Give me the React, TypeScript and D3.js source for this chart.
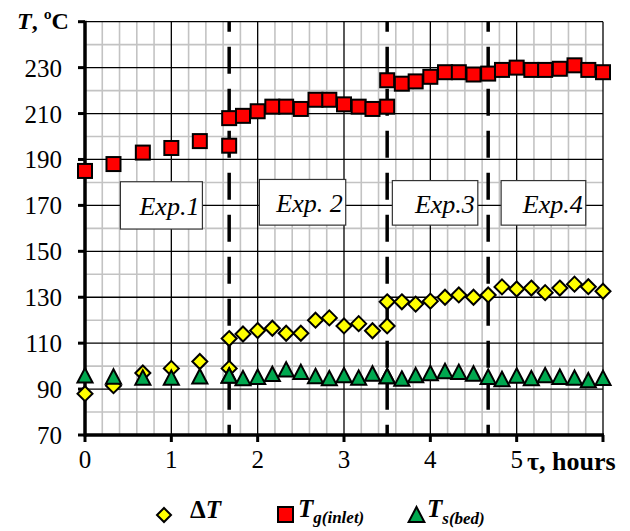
import * as d3 from "d3";

// time, hours
const HOURS = [
  0, 0.33, 0.67, 1.0, 1.33, 1.67, 1.67, 1.83, 2.0, 2.17, 2.33, 2.5, 2.67, 2.83, 3.0, 3.17, 3.33,
  3.5, 3.5, 3.67, 3.83, 4.0, 4.17, 4.33, 4.5, 4.67, 4.83, 5.0, 5.17, 5.33, 5.5, 5.67, 5.83, 6.0,
];
// ΔT
const DELTA_T = [
  88, 91.5, 97, 99, 102, 99, 112, 114, 115.5, 116.5, 114.3, 114.3, 120, 121, 117.5, 118.5, 115.4,
  117.5, 128, 128, 127, 128.3, 130, 131, 130, 131, 134.5, 133.6, 134, 132, 134, 135.7, 134.6, 132.6,
];
// T g(inlet)
const T_GAS = [
  185, 188, 193, 195, 198, 196, 208, 209, 211, 213, 213, 212, 216, 216, 214, 213, 212,
  213, 224.5, 223, 224, 226, 228, 228, 227, 227.4, 229, 230, 229, 229, 229.5, 231, 229, 228,
];
// T s(bed)
const T_BED = [
  96, 95.5, 95, 95, 95.6, 96, 95.9, 94.8, 95.4, 96.6, 98.6, 97.5, 95.7, 94.8, 96.1, 95, 96.8,
  95.7, 95.7, 94.6, 96.1, 97, 97.9, 97.5, 96.8, 95.4, 94.4, 95.9, 94.8, 96.1, 95.4, 95, 93.9, 94.9,
];

const X_TICKS = [0, 1, 2, 3, 4, 5, 6];
const X_LABELS = ["0", "1", "2", "3", "4", "5"];
const Y_TICKS = [70, 90, 110, 130, 150, 170, 190, 210, 230, 250];
const Y_LABELS = ["70", "90", "110", "130", "150", "170", "190", "210", "230"];

// boundaries between experiments
const EXP_BOUNDS = [1.67, 3.5, 4.67];
const EXP_NAMES = ["Exp.1", "Exp. 2", "Exp.3", "Exp.4"];
const EXP_FROM = [0.41, 2.02, 3.56, 4.82];
const EXP_TO = [1.36, 3.02, 4.55, 5.8];
const EXP_TOP = [180.3, 181.3, 180.8, 180.8];
const EXP_BOTTOM = [159.7, 161.4, 161.4, 161.4];

const W = 630;
const H = 531;
const SERIF = "Liberation Serif";

const RED = "#ff0000";
const YELLOW = "#ffff00";
const GREEN = "#00a84f";

const diamond = (cx: number, cy: number, r: number) =>
  `M${cx},${cy - r}L${cx + r},${cy}L${cx},${cy + r}L${cx - r},${cy}Z`;
const triangle = (cx: number, cy: number, r: number) =>
  `M${cx},${cy - r}L${cx + r * 1.05},${cy + r}L${cx - r * 1.05},${cy + r}Z`;

export default function App() {
  const x = d3.scaleLinear().domain([0, 6]).range([85, 603]);
  const y = d3.scaleLinear().domain([70, 250]).range([435, 21.7]);
  const [x0, x1] = x.range();
  const [yb, yt] = y.range();

  const minorX = x.ticks(30).filter((t) => !Number.isInteger(t));
  const minorY = y.ticks(18).filter((t) => t % 20 === 0);
  const majorX = X_TICKS.filter((t) => t > 0 && t < 6);
  const majorY = Y_TICKS.filter((t) => t > 70 && t < 250);

  return (
    <div style={{ position: "absolute", left: 0, top: 0 }}>
      <svg width={W} height={H} style={{ display: "block", background: "#fff" }}>
        {/* minor grid */}
        {minorX.map((t) => (
          <line key={`mx${t}`} x1={x(t)} x2={x(t)} y1={yt} y2={yb} stroke="#c3c3c3" strokeWidth={1.6} />
        ))}
        {minorY.map((t) => (
          <line key={`my${t}`} x1={x0} x2={x1} y1={y(t)} y2={y(t)} stroke="#c3c3c3" strokeWidth={1.6} />
        ))}
        {/* major grid */}
        {majorX.map((t) => (
          <line key={`Mx${t}`} x1={x(t)} x2={x(t)} y1={yt} y2={yb} stroke="#000" strokeWidth={1.3} />
        ))}
        {majorY.map((t) => (
          <line key={`My${t}`} x1={x0} x2={x1} y1={y(t)} y2={y(t)} stroke="#000" strokeWidth={1.3} />
        ))}
        {/* frame */}
        <line x1={x0} x2={x1} y1={yt} y2={yt} stroke="#000" strokeWidth={1.3} />
        <line x1={x1} x2={x1} y1={yt} y2={yb} stroke="#000" strokeWidth={1.3} />

        {/* experiment boundaries */}
        {EXP_BOUNDS.map((b) => (
          <line
            key={`b${b}`}
            x1={x(b)}
            x2={x(b)}
            y1={yt}
            y2={yb}
            stroke="#000"
            strokeWidth={3.5}
            strokeDasharray="27 15"
            strokeDashoffset={17}
          />
        ))}

        {/* experiment labels */}
        {EXP_NAMES.map((name, i) => {
          const bx0 = x(EXP_FROM[i]);
          const bx1 = x(EXP_TO[i]);
          const by0 = y(EXP_TOP[i]);
          const by1 = y(EXP_BOTTOM[i]);
          return (
            <g key={name}>
              <rect x={bx0} y={by0} width={bx1 - bx0} height={by1 - by0} fill="#fff" stroke="#333" strokeWidth={1.2} />
              <text
                x={bx1 - 3}
                y={(by0 + by1) / 2 + 10}
                textAnchor="end"
                fontFamily={SERIF}
                fontStyle="italic"
                fontSize={26}
                fill="#000"
              >
                {name}
              </text>
            </g>
          );
        })}

        {/* axes */}
        <line x1={x0} x2={x1 + 1} y1={yb} y2={yb} stroke="#000" strokeWidth={3.5} />
        <line x1={x0} x2={x0} y1={yt - 1} y2={yb + 1.5} stroke="#000" strokeWidth={3.5} />
        {X_TICKS.map((t) => (
          <line key={`xt${t}`} x1={x(t)} x2={x(t)} y1={yb} y2={yb + 7} stroke="#000" strokeWidth={3} />
        ))}
        {Y_TICKS.map((t) => (
          <line key={`yt${t}`} x1={x0 - 7} x2={x0} y1={y(t)} y2={y(t)} stroke="#000" strokeWidth={3} />
        ))}
        {X_LABELS.map((l, i) => (
          <text key={`xl${l}`} x={x(X_TICKS[i])} y={468} textAnchor="middle" fontFamily={SERIF} fontSize={25}>
            {l}
          </text>
        ))}
        {Y_LABELS.map((l, i) => (
          <text key={`yl${l}`} x={62} y={y(Y_TICKS[i]) + 9} textAnchor="end" fontFamily={SERIF} fontSize={25}>
            {l}
          </text>
        ))}
        <text x={17} y={29} fontFamily={SERIF} fontWeight="bold" fontSize={24}>
          <tspan fontStyle="italic">T</tspan>
          <tspan>, ºC</tspan>
        </text>
        <text x={527} y={470} fontFamily={SERIF} fontWeight="bold" fontSize={26}>
          τ, hours
        </text>

        {/* series */}
        {HOURS.map((h, i) => (
          <rect
            key={`g${i}`}
            x={x(h) - 7}
            y={y(T_GAS[i]) - 7}
            width={14}
            height={14}
            fill={RED}
            stroke="#000"
            strokeWidth={2}
          />
        ))}
        {HOURS.map((h, i) => (
          <path key={`d${i}`} d={diamond(x(h), y(DELTA_T[i]), 7.5)} fill={YELLOW} stroke="#000" strokeWidth={2} />
        ))}
        {HOURS.map((h, i) => (
          <path key={`s${i}`} d={triangle(x(h), y(T_BED[i]), 7.2)} fill={GREEN} stroke="#000" strokeWidth={2} />
        ))}

        {/* legend */}
        <path d={diamond(164, 515, 7)} fill={YELLOW} stroke="#000" strokeWidth={2} />
        <text x={190} y={518} fontFamily={SERIF} fontWeight="bold" fontSize={25}>
          Δ<tspan fontStyle="italic">T</tspan>
        </text>
        <rect x={278} y={507} width={15} height={15} fill={RED} stroke="#000" strokeWidth={2} />
        <text x={298} y={517} fontFamily={SERIF} fontWeight="bold" fontStyle="italic" fontSize={25}>
          T
          <tspan fontSize={17} dy={6}>
            g(inlet)
          </tspan>
        </text>
        <path d={triangle(416.5, 514.5, 7.5)} fill={GREEN} stroke="#000" strokeWidth={2} />
        <text x={427} y={517} fontFamily={SERIF} fontWeight="bold" fontStyle="italic" fontSize={25}>
          T
          <tspan fontSize={17} dy={7}>
            s(bed)
          </tspan>
        </text>
      </svg>
    </div>
  );
}
